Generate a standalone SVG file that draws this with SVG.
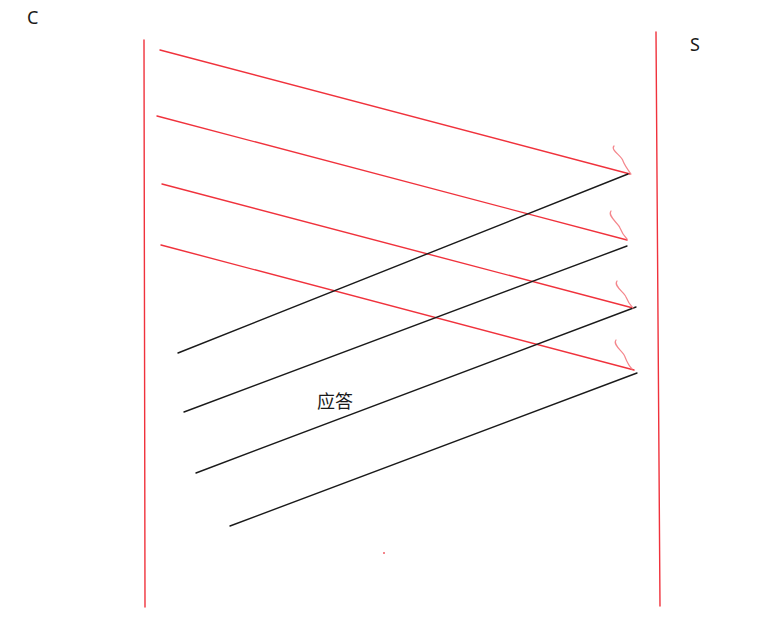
<svg xmlns="http://www.w3.org/2000/svg" width="784" height="629" viewBox="0 0 784 629">
<style>
.r{stroke:#f0323c;stroke-width:1.4;fill:none;stroke-linecap:round}
.k{stroke:#1a1a1a;stroke-width:1.4;fill:none;stroke-linecap:round}
.sq{stroke:#f4868c;stroke-width:1.2;fill:none;stroke-linecap:round}
.t{font-family:"Noto Sans","Noto Sans CJK SC",sans-serif;fill:#1a1a1a}
</style>
<rect width="784" height="629" fill="#ffffff"/>
<g id="lifeline-C">
<line class="r" x1="144" y1="40" x2="145" y2="607"/>
<text class="t" x="27" y="24" font-size="18">C</text>
</g>
<g id="lifeline-S">
<line class="r" x1="656" y1="32" x2="660" y2="606"/>
<text class="t" x="690" y="51" font-size="18">S</text>
</g>
<g id="connectors">
<line class="r" x1="160" y1="50" x2="630" y2="174"/>
<line class="r" x1="157" y1="116" x2="627" y2="240"/>
<line class="r" x1="162" y1="184" x2="633" y2="308"/>
<line class="r" x1="161" y1="245" x2="634" y2="370"/>
<line class="k" x1="178" y1="353" x2="628" y2="174"/>
<line class="k" x1="184" y1="412" x2="627" y2="246"/>
<line class="k" x1="196" y1="473" x2="636" y2="307"/>
<line class="k" x1="230" y1="526" x2="637" y2="373"/>
<path class="sq" d="M614,146 C610,150 622,156 623,161 C625,166 628,170 631,174"/>
<path class="sq" d="M611,211 C607,216 619,224 620,228 C622,233 624,236 627,239"/>
<path class="sq" d="M617,281 C613,286 625,293 626,297 C628,302 630,305 633,308"/>
<path class="sq" d="M616,340 C612,345 624,352 625,357 C627,362 629,366 632,369"/>
</g>
<g id="label">
<text class="t" x="317" y="408" font-size="18">应答</text>
</g>
<rect x="383" y="552" width="2" height="2" fill="#f4868c"/>
</svg>
